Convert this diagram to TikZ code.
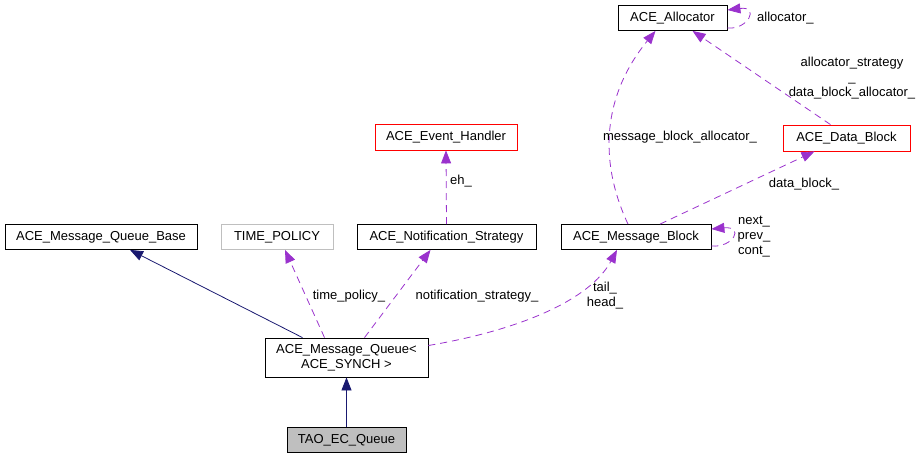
\documentclass[tikz,border=0pt]{standalone}
\usepackage{fontspec}
\setmainfont{Liberation Sans}
\usetikzlibrary{arrows.meta}
\definecolor{edgepurple}{HTML}{9A32CD}
\definecolor{edgenavy}{HTML}{191970}
\definecolor{boxgray}{HTML}{BFBFBF}
\begin{document}
\begin{tikzpicture}[x=1pt,y=-1pt,
	cls/.style={draw=black,line width=0.8pt,minimum height=25pt,inner sep=0pt,font=\fontsize{13}{15}\selectfont},
	inherit/.style={-{Triangle[length=13pt,width=10pt]},color=edgenavy,line width=0.8pt},
	uses/.style={-{Triangle[length=13pt,width=10pt]},color=edgepurple,dash pattern=on 7pt off 5pt,line width=0.8pt},
	lbl/.style={font=\fontsize{13}{15}\selectfont,inner sep=0pt,align=center}]
		\useasboundingbox (0,0) rectangle (921,461);
		\node[cls,minimum width=109pt] (alloc) at (672.5,18) {ACE\_Allocator};
		\node[cls,draw=red,minimum width=127pt,minimum height=26pt] (datab) at (846.5,138) {ACE\_Data\_Block};
		\node[cls,draw=red,minimum width=142pt,minimum height=26pt] (evh) at (446,137) {ACE\_Event\_Handler};
		\node[cls,minimum width=192pt] (mqbase) at (101,237) {ACE\_Message\_Queue\_Base};
		\node[cls,draw=boxgray,minimum width=112pt] (tpol) at (277,237) {TIME\_POLICY};
		\node[cls,minimum width=179pt] (notif) at (446.5,237) {ACE\_Notification\_Strategy};
		\node[cls,minimum width=150pt] (msgblk) at (636,237) {ACE\_Message\_Block};
		\node[cls,align=center,minimum width=163pt,minimum height=39pt] (mq) at (346.5,357.5) {ACE\_Message\_Queue<\\ACE\_SYNCH >};
		\node[cls,fill=boxgray,minimum width=119pt] (tao) at (346.5,440) {TAO\_EC\_Queue};
		\draw[inherit] (tao) -- (mq);
		\draw[inherit] ([xshift=-44pt]mq.north) -- ([xshift=29pt]mqbase.south);
		\draw[uses] ([xshift=-22pt]mq.north) -- ([xshift=8pt]tpol.south);
		\draw[uses] ([xshift=18pt]mq.north) -- ([xshift=-16pt]notif.south);
		\draw[uses] ([yshift=12pt]mq.east) .. controls (520,330) and (590,300) .. ([xshift=-19pt]msgblk.south);
		\draw[uses] (notif.north) -- (evh.south);
		\draw[uses] ([xshift=-8pt]msgblk.north) .. controls (598,160) and (603,95) .. ([xshift=-17pt]alloc.south);
		\draw[uses] ([xshift=24pt]msgblk.north) -- ([xshift=-32pt]datab.south);
		\draw[uses] ([xshift=-16pt]datab.north) -- ([xshift=20pt]alloc.south);
		\draw[uses] ([yshift=-10pt]alloc.east) .. controls (748,30) and (760,6) .. ([yshift=8pt]alloc.east);
		\draw[uses] ([yshift=-9pt]msgblk.east) .. controls (733,248) and (745,226) .. ([yshift=8pt]msgblk.east);
		\node[lbl] (l-tpol) at (349,296) {time\_policy\_};
		\node[lbl] (l-notif) at (477,296) {notification\_strategy\_};
		\node[lbl] (l-tail) at (605,296) {tail\_\\head\_};
		\node[lbl] (l-eh) at (461,181) {eh\_};
		\node[lbl] (l-mballoc) at (680,137) {message\_block\_allocator\_};
		\node[lbl] (l-datab) at (804,184) {data\_block\_};
		\node[lbl] (l-strat) at (852,78) {allocator\_strategy\\\_\\data\_block\_allocator\_};
		\node[lbl,anchor=west] (l-alloc) at (757,18) {allocator\_};
		\node[lbl] (l-next) at (754,237) {next\_\\prev\_\\cont\_};
\end{tikzpicture}
\end{document}
